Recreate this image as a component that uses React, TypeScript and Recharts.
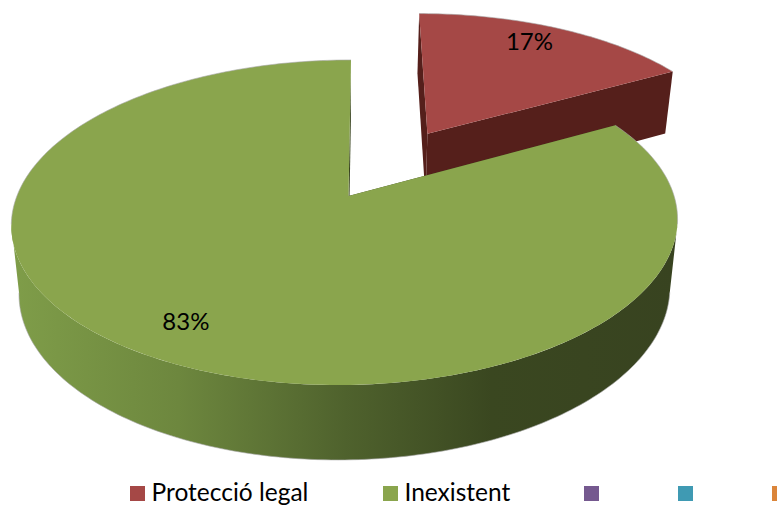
import React from "react";
import { PieChart, Pie, Cell, Legend } from "recharts";

const CATEGORIES = ["Protecció legal", "Inexistent", "", "", ""];
const VALUES = [17, 83, 0, 0, 0];
const EXPLOSION = [0.488, 0, 0, 0, 0];
const TOP_COLORS = ["#a54846", "#8aa54d", "#75598f", "#3f9ab3", "#db853a"];
const WALL_COLORS = ["#551f1b", "#38431f", "#3b2d48", "#1f4d5a", "#6e431d"];
const LEGEND_X = [130, 383, 584, 678, 772];
const LABEL_DX = [-7, 0.5, 0, 0, 0];
const LABEL_DY = [-5, -2, 0, 0, 0];

const W = 777;
const H = 509;
const FONT = "Lato, Carlito, sans-serif";
const table = CATEGORIES.map((name, i) => ({ name, value: VALUES[i] }));

// Perspective projection of the pie's ground plane (unit circle) on the page.
const project = (u: number, v: number) => {
  const d = 1 + 0.163 * v;
  return { x: 345.5 + (328.6 * u + 6.4 * v) / d, y: 196 - (158.2 * v) / d };
};
const drop = (p: { x: number; y: number }) => ({
  x: 345 + (p.x - 345) * 0.977,
  y: p.y + 59 + 0.0414 * p.y,
});
const rad = (a: number) => (a * Math.PI) / 180;
const toPath = (pts: { x: number; y: number }[], close = false) =>
  pts.map((p, i) => `${i ? "L" : "M"}${p.x.toFixed(2)} ${p.y.toFixed(2)}`).join("") + (close ? "Z" : "");

const range = (a: number, b: number) => {
  const out: number[] = [];
  if (b <= a) return out;
  for (let t = a; t < b; t += 1) out.push(t);
  out.push(b);
  return out;
};

const Slice = (props: any) => {
  const { startAngle, endAngle, index } = props;
  const a0 = 90 - startAngle;
  const a1 = 90 - endAngle;
  if (a1 - a0 <= 0) return null;
  const mid = (a0 + a1) / 2;
  const e = EXPLOSION[index];
  const du = e * Math.sin(rad(mid));
  const dv = e * Math.cos(rad(mid));
  const rim = (a: number) => project(du + Math.sin(rad(a)), dv + Math.cos(rad(a)));
  const base = project(du, dv);
  const apex = { x: base.x + 3, y: base.y };
  const faceAngles = range(a0, a1);
  const face = [apex, ...faceAngles.map(rim)];
  const wallAngles = range(Math.max(a0, 100), Math.min(a1, 260));
  const topEdge = wallAngles.map(rim);
  const bottomEdge = wallAngles.map((a) => drop(rim(a))).reverse();
  const gid = `wall-${index}`;
  const backA = range(a0, Math.min(a1, 100));
  const backB = range(Math.max(a0, 260), a1);
  const edge = "#a9a9a9";
  const rimA = backA.map(rim);
  const rimB = backB.map(rim);
  return (
    <g>
      <defs>
        <linearGradient id={gid} gradientUnits="userSpaceOnUse" x1={12} x2={678} y1={0} y2={0}>
          <stop offset="0%" stopColor="#7f9d49" />
          <stop offset="25%" stopColor="#6d873e" />
          <stop offset="50%" stopColor="#4f622d" />
          <stop offset="72%" stopColor="#3a4720" />
          <stop offset="100%" stopColor="#384320" />
        </linearGradient>
      </defs>
      <path d={toPath([apex, rim(a0), drop(rim(a0)), drop(apex)], true)} fill={WALL_COLORS[index]} />
      <path d={toPath([apex, rim(a1), drop(rim(a1)), drop(apex)], true)} fill={WALL_COLORS[index]} />
      {wallAngles.length > 0 && (
        <>
          <path d={toPath([...topEdge, ...bottomEdge], true)} fill={`url(#${gid})`} />
          <path d={toPath(bottomEdge)} fill="none" stroke={edge} strokeOpacity={0.6} />
        </>
      )}
      <path d={toPath(face, true)} fill={TOP_COLORS[index]} />
      {rimA.length > 0 && <path d={toPath(rimA)} fill="none" stroke={edge} strokeOpacity={0.6} />}
      {rimB.length > 0 && <path d={toPath(rimB)} fill="none" stroke={edge} strokeOpacity={0.6} />}
    </g>
  );
};

const SliceLabel = (props: any) => {
  const { midAngle, index, percent } = props;
  if (!percent) return null;
  const a = 90 - midAngle;
  const e = EXPLOSION[index] + 0.82;
  const p = project(e * Math.sin(rad(a)), e * Math.cos(rad(a)));
  return (
    <text x={p.x + LABEL_DX[index]} y={p.y + LABEL_DY[index]} textAnchor="middle" dominantBaseline="central" fontFamily={FONT} fontSize={24} fill="#000">
      {`${Math.round(percent * 100)}%`}
    </text>
  );
};

const LegendContent = () => (
  <svg width={W} height={39} style={{ display: "block" }}>
    {CATEGORIES.map((name, i) => (
      <g key={i}>
        <rect x={LEGEND_X[i]} y={16} width={15} height={15} fill={TOP_COLORS[i]} />
        {name && (
          <text x={LEGEND_X[i] + 21.5} y={31} fontFamily={FONT} fontSize={24.5} fill="#000">
            {name}
          </text>
        )}
      </g>
    ))}
  </svg>
);

export default function App() {
  return (
    <div style={{ position: "absolute", left: 0, top: 0, width: W, height: H, overflow: "hidden", background: "#fff" }}>
      <PieChart width={W} height={H} margin={{ top: 0, right: 0, bottom: 0, left: 0 }}>
        <Pie
          data={table}
          dataKey="value"
          nameKey="name"
          cx={345}
          cy={222}
          outerRadius={160}
          startAngle={90}
          endAngle={-270}
          paddingAngle={0}
          stroke="none"
          isAnimationActive={false}
          shape={Slice}
          label={SliceLabel}
          labelLine={false}
        >
          {table.map((_, i) => (
            <Cell key={i} fill={TOP_COLORS[i]} />
          ))}
        </Pie>
        <Legend
          content={LegendContent}
          wrapperStyle={{ position: "absolute", left: 0, top: 470, bottom: "auto", width: W, height: 39 }}
        />
      </PieChart>
    </div>
  );
}
